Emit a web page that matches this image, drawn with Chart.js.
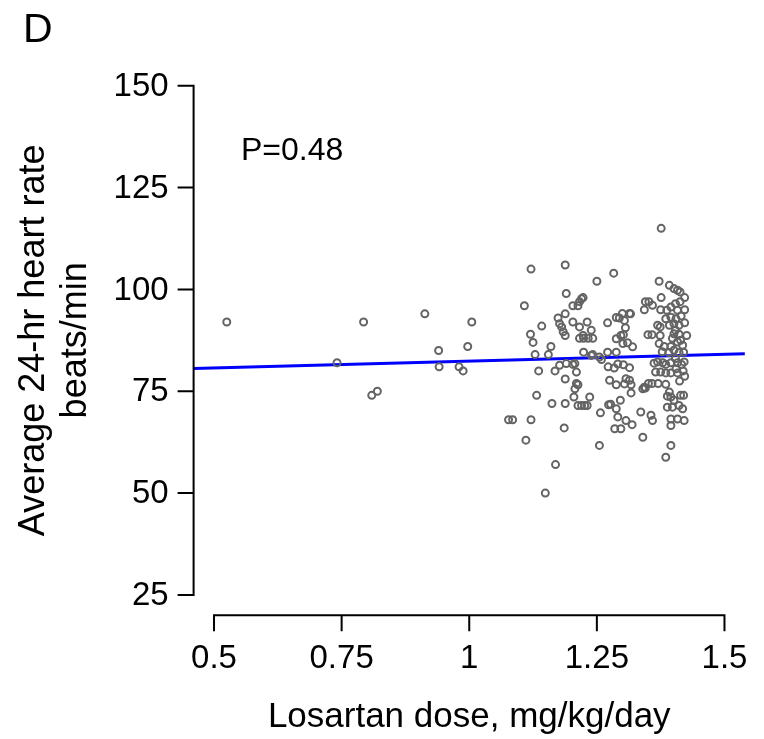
<!DOCTYPE html>
<html>
<head>
<meta charset="utf-8">
<script src="https://cdn.jsdelivr.net/npm/chart.js@4/dist/chart.umd.min.js"></script>
<style>
  html, body { margin: 0; padding: 0; background: #fff; }
  #wrap { width: 764px; height: 739px; position: relative; }
</style>
</head>
<body>
<div id="wrap"><canvas id="hrChart"></canvas></div>
<script>
// Dose (mg/kg/day) and 24-hr heart rate (beats/min)
const doseX = [
    0.525, 0.741, 0.793, 0.809, 0.820, 0.913, 0.940, 0.941, 0.980, 0.988, 0.997, 1.005,
    1.077, 1.085, 1.108, 1.111, 1.121, 1.121, 1.120, 1.125, 1.129, 1.132, 1.136, 1.142,
    1.149, 1.155, 1.160, 1.162, 1.168, 1.169,
    1.174, 1.177, 1.181, 1.184, 1.188, 1.188, 1.188, 1.190, 1.188, 1.188, 1.186, 1.177, 1.190,
    1.203, 1.213, 1.216, 1.220, 1.223, 1.203, 1.216, 1.231, 1.239, 1.223, 1.216, 1.224, 1.233,
    1.242, 1.224, 1.239, 1.203, 1.207, 1.210, 1.210, 1.207, 1.213, 1.205, 1.213, 1.220, 1.226,
    1.231, 1.236, 1.250, 1.255, 1.257, 1.255, 1.242, 1.259,
    1.271, 1.288, 1.300, 1.314, 1.304, 1.306, 1.288, 1.297, 1.301, 1.310, 1.320, 1.271, 1.288,
    1.283, 1.272, 1.284, 1.291, 1.302, 1.314, 1.275, 1.288, 1.307, 1.314, 1.317, 1.304, 1.317,
    1.273, 1.296, 1.288, 1.291, 1.307, 1.319, 1.285, 1.297, 1.316, 1.294, 1.302, 1.277,
    1.336, 1.340, 1.340, 1.351, 1.343, 1.345, 1.343, 1.350, 1.358, 1.345, 1.352,
    1.376, 1.372, 1.392, 1.401, 1.408, 1.413, 1.376, 1.422, 1.359, 1.375, 1.387, 1.395, 1.404,
    1.408, 1.422, 1.385, 1.395, 1.405, 1.369, 1.374, 1.392, 1.401, 1.411, 1.422, 1.374, 1.401,
    1.411, 1.426, 1.372, 1.382, 1.395, 1.408, 1.418, 1.378, 1.391, 1.401, 1.411, 1.420, 1.362,
    1.369, 1.379, 1.385, 1.395, 1.408, 1.416, 1.421, 1.365, 1.375, 1.385, 1.395, 1.408, 1.419,
    1.358, 1.370, 1.385, 1.392, 1.395, 1.414, 1.388, 1.398, 1.411, 1.418, 1.356, 1.359, 1.395,
    1.408, 1.421, 1.395, 1.395, 1.385, 1.420, 1.422, 1.401, 1.404, 1.414, 1.404, 1.415, 1.413,
    1.398, 1.405, 1.412, 1.388
];
const heartRate = [
    92, 82, 92, 74, 75, 94, 85, 81, 81, 80, 86, 92,
    68, 68, 96, 63, 105, 68, 89, 87, 84, 74, 80, 91,
    50, 84, 86, 72, 80, 57,
    93, 91.6, 90.8, 89.6, 88.7, 94, 106, 99, 78, 72, 66, 81.4, 81.8,
    96, 96, 97, 97.7, 98, 92, 90.8, 92, 90, 88.7, 88, 88, 88,
    88, 84.6, 83.8, 81.6, 81.8, 79.7, 76.9, 75.6, 76.6, 73.6, 71.5, 71.5, 71.5,
    71.5, 73.6, 102, 83.4, 69.7, 61.7, 84, 82.8,
    91.8, 93.1, 94.1, 94.1, 92.4, 90.6, 87.9, 88.7, 86.7, 86.9, 85.9, 84.6, 84.6,
    104, 81, 80.7, 81.7, 81.5, 80.8, 77.7, 76.6, 78.1, 77.7, 76.6, 76.8, 74.6,
    71.7, 72.8, 70.7, 68.7, 67.8, 66.8, 65.8, 65.8, 94, 93, 88.9, 71.8,
    69.9, 63.7, 75.6, 76.9, 76, 97, 95, 88.9, 88.9, 75.8, 97,
    115, 102, 101, 100.2, 99.8, 99.4, 98, 98, 96.1, 95, 94.9, 95.7, 96.5,
    94.9, 95, 92.8, 93.2, 92.8, 91.2, 90.8, 91.2, 91.6, 91.2, 91.8, 88.7, 89.1,
    89, 88.7, 86.7, 86, 86, 87.1, 86.3, 84.7, 84.5, 85.1, 84.5, 84.6, 81.9,
    82.2, 82, 81.6, 82, 82, 81.6, 82.2, 79.7, 79.7, 79.5, 79.5, 79.5, 80,
    76.9, 76.9, 76.7, 74.8, 73.6, 74, 71.1, 71.1, 71.5, 70.7, 69.1, 67.8, 68.2,
    68.2, 67.8, 66.6, 61.7, 58.8, 74, 78.7, 72.8, 83, 87.5, 90, 93.5, 97,
    88, 80.5, 77.5, 73.8
];

// Fitted regression line, read at the two plot edges
const fitX = [0.46, 1.54];
const fitY = [80.6, 84.2];

// Axis ticks and labels
const xTicks = [0.5, 0.75, 1, 1.25, 1.5];
const xTickLabels = ['0.5', '0.75', '1', '1.25', '1.5'];
const yTicks = [25, 50, 75, 100, 125, 150];
const yTickLabels = ['25', '50', '75', '100', '125', '150'];

const xTitle = 'Losartan dose, mg/kg/day';
const yTitle = ['Average 24-hr heart rate', 'beats/min'];
const panelLetter = 'D';
const pLabel = 'P=0.48';

const FONT = '"Liberation Sans", Arial, sans-serif';

// R-style detached axes drawn from the chart's own scales
const rAxes = {
    id: 'rAxes',
    afterDraw(chart) {
        const ctx = chart.ctx;
        const xs = chart.scales.x;
        const ys = chart.scales.y;
        const area = chart.chartArea;
        const tick = 15;

        ctx.save();
        ctx.strokeStyle = '#000';
        ctx.fillStyle = '#000';
        ctx.lineWidth = 2;
        ctx.lineCap = 'square';

        // y axis
        const ax = area.left;
        ctx.beginPath();
        ctx.moveTo(ax, ys.getPixelForValue(yTicks[0]));
        ctx.lineTo(ax, ys.getPixelForValue(yTicks[yTicks.length - 1]));
        yTicks.forEach(v => {
            const p = ys.getPixelForValue(v);
            ctx.moveTo(ax, p);
            ctx.lineTo(ax - tick, p);
        });
        ctx.stroke();

        ctx.font = '33px ' + FONT;
        ctx.textAlign = 'right';
        ctx.textBaseline = 'middle';
        yTicks.forEach((v, i) => {
            ctx.fillText(yTickLabels[i], ax - tick - 10, ys.getPixelForValue(v) + 1);
        });

        // x axis
        const ay = area.bottom;
        ctx.beginPath();
        ctx.moveTo(xs.getPixelForValue(xTicks[0]), ay);
        ctx.lineTo(xs.getPixelForValue(xTicks[xTicks.length - 1]), ay);
        xTicks.forEach(v => {
            const p = xs.getPixelForValue(v);
            ctx.moveTo(p, ay);
            ctx.lineTo(p, ay + tick);
        });
        ctx.stroke();

        ctx.textAlign = 'center';
        ctx.textBaseline = 'alphabetic';
        xTicks.forEach((v, i) => {
            ctx.fillText(xTickLabels[i], xs.getPixelForValue(v), 668);
        });

        // axis titles
        ctx.font = '35px ' + FONT;
        ctx.fillText(xTitle, (area.left + area.right) / 2, 727);

        ctx.save();
        ctx.translate(0, (area.top + area.bottom) / 2);
        ctx.rotate(-Math.PI / 2);
        ctx.textBaseline = 'middle';
        ctx.font = '36px ' + FONT;
        ctx.fillText(yTitle[0], 0, 34);
        ctx.fillText(yTitle[1], 0, 76);
        ctx.restore();

        // panel letter and p value
        ctx.textAlign = 'left';
        ctx.textBaseline = 'alphabetic';
        ctx.font = '41px ' + FONT;
        ctx.fillText(panelLetter, 23, 42);
        ctx.font = '32px ' + FONT;
        ctx.fillText(pLabel, 241, 160);

        ctx.restore();
    }
};

const conf = {
    type: 'scatter',
    data: {
        datasets: [
            {
                label: 'Patients',
                data: doseX.map((x, i) => ({ x: x, y: heartRate[i] })),
                pointStyle: 'circle',
                pointRadius: 3.5,
                pointBorderWidth: 2,
                pointBorderColor: 'rgb(100, 100, 100)',
                pointBackgroundColor: 'rgba(0, 0, 0, 0)',
                pointHoverRadius: 3.5
            },
            {
                type: 'line',
                label: 'Fit',
                data: fitX.map((x, i) => ({ x: x, y: fitY[i] })),
                borderColor: 'rgb(0, 0, 255)',
                borderWidth: 3,
                pointRadius: 0,
                fill: false,
                tension: 0
            }
        ]
    },
    options: {
        responsive: true,
        maintainAspectRatio: false,
        animation: false,
        layout: {
            padding: { left: 193.6, right: 19.1, top: 65.4, bottom: 123.7 }
        },
        plugins: {
            legend: { display: false },
            tooltip: { enabled: false }
        },
        scales: {
            x: { type: 'linear', min: 0.46, max: 1.54, display: false },
            y: { type: 'linear', min: 20, max: 155, display: false }
        }
    },
    plugins: [rAxes]
};

const hrChart = new Chart(document.getElementById('hrChart'), conf);
</script>
</body>
</html>
